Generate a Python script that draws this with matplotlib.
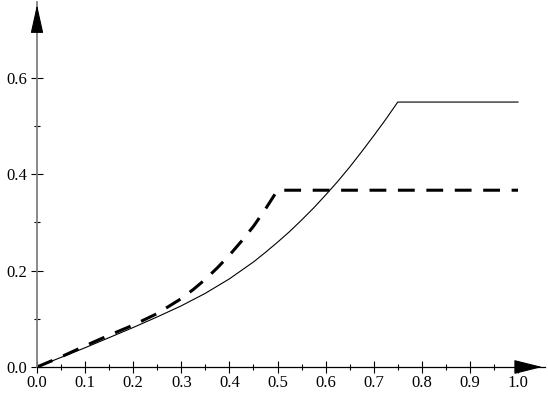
import matplotlib
matplotlib.use('Agg')
import matplotlib.pyplot as plt
import numpy as np
from matplotlib.ticker import FormatStrFormatter

plt.rcParams['font.family'] = ['Liberation Serif', 'DejaVu Serif']

# 实线（细）
solid_x = [0.0, 0.05, 0.1, 0.15, 0.2, 0.25, 0.3, 0.35, 0.4, 0.45, 0.475, 0.5, 0.525, 0.55,
           0.575, 0.6, 0.625, 0.65, 0.675, 0.7, 0.725, 0.75, 1.0]
solid_y = [0.0, 0.020, 0.040, 0.061, 0.082, 0.104, 0.127, 0.153, 0.183, 0.218, 0.238, 0.259, 0.281, 0.305,
           0.330, 0.357, 0.385, 0.415, 0.447, 0.480, 0.514, 0.550, 0.550]
# 虚线（粗）
dash_x = [0.0, 0.05, 0.1, 0.15, 0.2, 0.25, 0.3, 0.325, 0.35, 0.375, 0.4, 0.425, 0.45, 0.475, 0.5, 1.0]
dash_y = [0.0, 0.021, 0.044, 0.066, 0.087, 0.111, 0.142, 0.161, 0.182, 0.206, 0.232, 0.261, 0.292, 0.328, 0.367, 0.367]

W, H = 548, 404
fig = plt.figure(figsize=(W / 100, H / 100), dpi=100)
x_end = 1.0 + 27 / 481.
y_end = 365 / 481.7
ax = fig.add_axes([37 / W, 37 / H, 481 * x_end / W, 481.7 * y_end / H])
ax.set_xlim(0, x_end)
ax.set_ylim(0, y_end)

ax.plot(solid_x, solid_y, color='black', lw=0.8, clip_on=False)
ax.plot(dash_x, dash_y, color='black', lw=2.2, dashes=(5.5, 3.8), clip_on=False)

for s in ['top', 'right']:
    ax.spines[s].set_visible(False)
ax.spines['left'].set_color('#808080')
ax.spines['left'].set_linewidth(1.3)
ax.spines['bottom'].set_color('black')
ax.spines['bottom'].set_linewidth(0.9)

ax.set_xticks(np.round(np.arange(0, 1.01, 0.1), 2))
ax.set_xticks(np.round(np.arange(0.05, 1.0, 0.1), 2), minor=True)
ax.set_yticks([0.0, 0.2, 0.4, 0.6])
ax.set_yticks([0.1, 0.3, 0.5, 0.7], minor=True)
ax.xaxis.set_major_formatter(FormatStrFormatter('%.1f'))
ax.yaxis.set_major_formatter(FormatStrFormatter('%.1f'))

ax.tick_params(which='major', direction='inout', length=8.5, width=0.8, labelsize=12, color='black')
ax.tick_params(which='minor', direction='inout', length=4.3, width=0.8, color='black')
ax.tick_params(axis='x', which='major', pad=1.5)
ax.tick_params(axis='y', which='major', pad=3)

# 箭头
ax.annotate('', xy=(1, 0), xycoords='axes fraction', xytext=(1 - 26 / 508., 0),
            arrowprops=dict(arrowstyle='-|>,head_length=1.8,head_width=0.45', color='black', lw=0.8, mutation_scale=10))
ax.annotate('', xy=(0, 1), xycoords='axes fraction', xytext=(0, 1 - 26 / 365.),
            arrowprops=dict(arrowstyle='-|>,head_length=1.8,head_width=0.4', color='black', lw=0.8, mutation_scale=10))

fig.savefig('out.png', dpi=100)
